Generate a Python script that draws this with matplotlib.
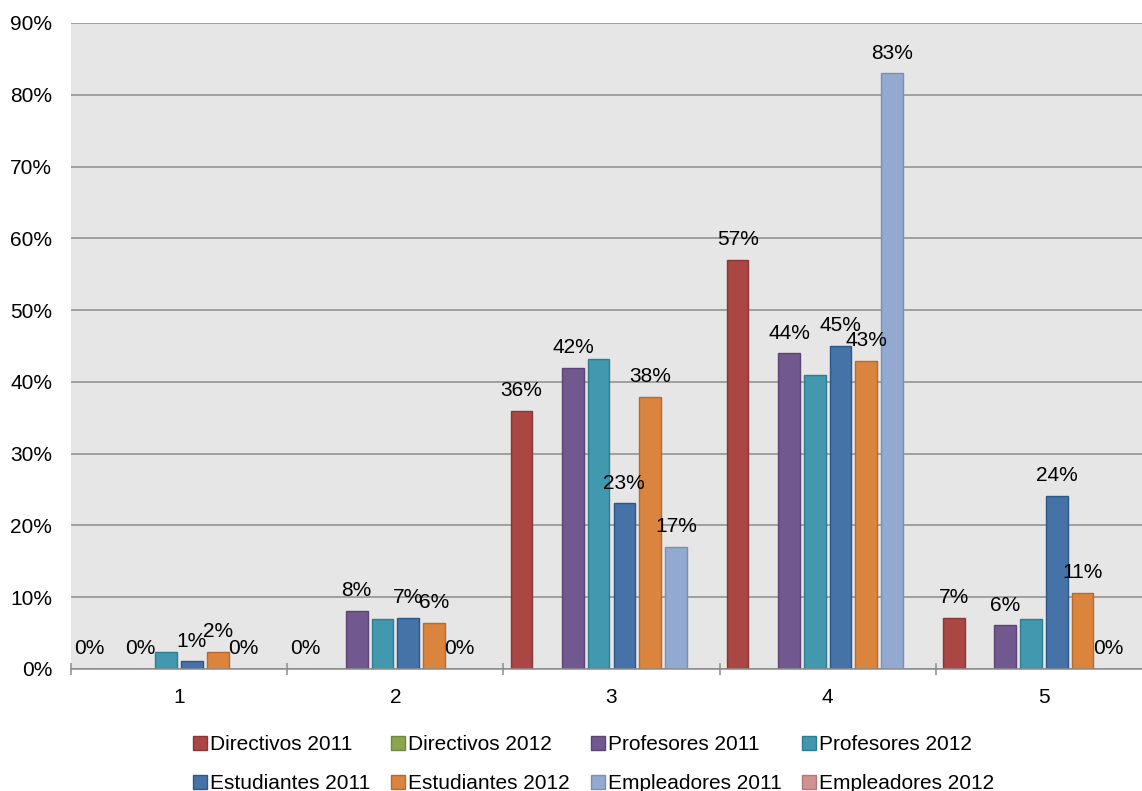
import numpy as np
import matplotlib
matplotlib.use('Agg')
import matplotlib.pyplot as plt

plt.rcParams['font.family'] = ['Liberation Sans', 'DejaVu Sans']

# categories on the x axis
categories = ['1', '2', '3', '4', '5']

# percentages per series
directivos_2011 = [0, 0, 36.0, 57.0, 7.1]
directivos_2012 = [0, 0, 0, 0, 0]
profesores_2011 = [0, 8.1, 42.0, 44.0, 6.1]
profesores_2012 = [2.4, 6.9, 43.2, 40.9, 6.9]
estudiantes_2011 = [1.1, 7.1, 23.1, 45.0, 24.1]
estudiantes_2012 = [2.4, 6.4, 37.9, 42.9, 10.6]
empleadores_2011 = [0, 0, 17.0, 83.0, 0]
empleadores_2012 = [0, 0, 0, 0, 0]

series = [
    ('Directivos 2011', directivos_2011, '#aa4643', '#8a3734', True),
    ('Directivos 2012', directivos_2012, '#89a54e', '#6f873e', False),
    ('Profesores 2011', profesores_2011, '#71588f', '#5a4574', True),
    ('Profesores 2012', profesores_2012, '#4198af', '#317d90', False),
    ('Estudiantes 2011', estudiantes_2011, '#4572a7', '#2f5786', True),
    ('Estudiantes 2012', estudiantes_2012, '#db843d', '#b56a2e', True),
    ('Empleadores 2011', empleadores_2011, '#93a9cf', '#7a8fb3', True),
    ('Empleadores 2012', empleadores_2012, '#d19392', '#b07877', False),
]

fig = plt.figure(figsize=(11.42, 7.91), dpi=100)
fig.patch.set_facecolor('white')
ax = fig.add_axes([71 / 1142, (791 - 669) / 791, (1152 - 71) / 1142, (669 - 23) / 791])
ax.set_facecolor('#e6e6e6')

x = np.arange(len(categories))
slot = 0.119
width = 0.1
handles = []
for i, (name, vals, fc, ec, show) in enumerate(series):
    pos = x + (i - 3.5) * slot
    bars = ax.bar(pos, vals, width, color=fc, edgecolor=ec, linewidth=1.0,
                  label=name, zorder=3)
    handles.append(bars)
    if show:
        for xp, v in zip(pos, vals):
            ax.annotate(f'{v:.0f}%', (xp, v), xytext=(0, 10.5),
                        textcoords='offset points', ha='center', va='baseline',
                        fontsize=15, color='black', zorder=5)

ax.set_xlim(-0.5, len(categories) - 0.5)
ax.set_ylim(0, 90)
ax.set_yticks(np.arange(0, 91, 10))
ax.set_yticklabels([f'{t}%' for t in range(0, 91, 10)])
ax.set_xticks(x)
ax.set_xticklabels(categories)
ax.set_xticks(np.arange(-0.5, len(categories)), minor=True)

ax.tick_params(axis='y', length=0, pad=13.5, labelsize=15, colors='black')
ax.tick_params(axis='x', which='major', length=0, pad=14, labelsize=15, colors='black')
ax.tick_params(axis='x', which='minor', direction='inout', length=9, width=1.1,
               color='#8c8c8c')

ax.grid(axis='y', color='#8c8c8c', linewidth=1.1, zorder=1)
ax.set_axisbelow(True)
for s in ['left', 'right', 'top']:
    ax.spines[s].set_visible(False)
ax.spines['bottom'].set_color('#8c8c8c')
ax.spines['bottom'].set_linewidth(1.1)
ax.spines['bottom'].set_zorder(4)

# legend laid out row by row like the original (matplotlib fills by column)
order = [0, 4, 1, 5, 2, 6, 3, 7]
fig.legend([handles[k] for k in order], [series[k][0] for k in order],
           loc='upper left', bbox_to_anchor=(193 / 1142, (791 - 735) / 791),
           ncol=4, frameon=False, fontsize=15, handlelength=0.67,
           handleheight=0.67, handletextpad=0.15, columnspacing=1.0,
           labelspacing=0.96, borderpad=0, borderaxespad=0)

fig.savefig('out.png', dpi=100, facecolor=fig.get_facecolor())
